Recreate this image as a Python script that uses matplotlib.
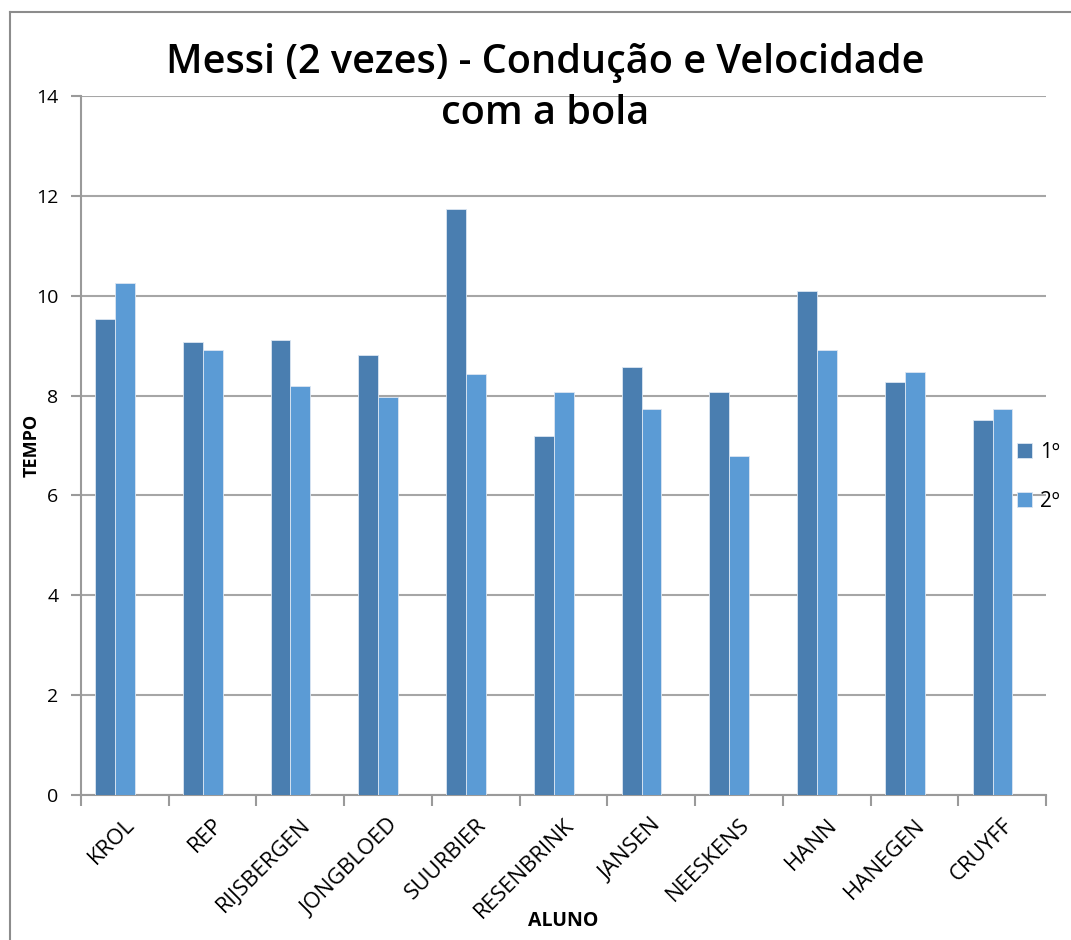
import numpy as np
import matplotlib.pyplot as plt
from matplotlib.lines import Line2D

# dados dos tempos por aluno
alunos = ['KROL', 'REP', 'RIJSBERGEN', 'JONGBLOED', 'SUURBIER', 'RESENBRINK',
          'JANSEN', 'NEESKENS', 'HANN', 'HANEGEN', 'CRUYFF']
tempo_1 = [9.53, 9.07, 9.11, 8.81, 11.74, 7.18, 8.58, 8.08, 10.10, 8.28, 7.52]
tempo_2 = [10.25, 8.92, 8.19, 7.97, 8.43, 8.08, 7.74, 6.79, 8.92, 8.47, 7.74]
series = ['1º', '2º']
cores = ['#4A7EB0', '#5B9BD5']

fonte = ['Open Sans', 'DejaVu Sans']
plt.rcParams['font.family'] = fonte

fig = plt.figure(figsize=(10.71, 9.4), dpi=100)
ax = fig.add_axes([0.0754, 0.1543, 0.9013, 0.7436])

x = np.arange(len(alunos))
w = 0.227
shift = -0.11
ax.bar(x + shift - w / 2, tempo_1, w, color=cores[0], edgecolor='#DCE6F2',
       linewidth=0.6, label=series[0], zorder=3)
ax.bar(x + shift + w / 2, tempo_2, w, color=cores[1], edgecolor='#DCE6F2',
       linewidth=0.6, label=series[1], zorder=3)

ax.set_xlim(-0.5, len(alunos) - 0.5)
ax.set_ylim(0, 14)
ax.set_yticks(np.arange(0, 15, 2))
ax.yaxis.grid(True, color='#A6A6A6', linewidth=1.5, zorder=0)
ax.set_axisbelow(True)

# ticks do eixo x nos limites das categorias
ax.set_xticks(np.arange(-0.5, len(alunos)), minor=False)
ax.set_xticklabels([])
ax.set_xticks(x, minor=True)
ax.set_xticklabels(alunos, minor=True, rotation=45, ha='right',
                   rotation_mode='anchor', fontsize=16)
ax.tick_params(axis='x', which='minor', length=0, pad=14)
ax.tick_params(axis='x', which='major', length=8, width=1.5, color='#9A9A9A')
ax.tick_params(axis='y', length=7, width=1.5, color='#9A9A9A', labelsize=14,
               pad=9)

for s in ['top', 'right']:
    ax.spines[s].set_visible(False)
for s in ['left', 'bottom']:
    ax.spines[s].set_color('#9A9A9A')
    ax.spines[s].set_linewidth(1.5)

ax.set_xlabel('ALUNO', fontsize=14, fontweight='bold')
ax.xaxis.set_label_coords(0.5, -0.166)
ax.set_ylabel('TEMPO', fontsize=13, fontweight='bold', labelpad=-3)

fig.text(0.509, 0.933, 'Messi (2 vezes) - Condução e Velocidade',
         ha='center', va='center', fontsize=28.5, fontweight='semibold')
fig.text(0.509, 0.879, 'com a bola', ha='center', va='center',
         fontsize=28.5, fontweight='semibold')

leg = ax.legend(loc='center left', bbox_to_anchor=(0.95, 0.455), frameon=False,
                fontsize=15, handlelength=0.75, handleheight=0.75,
                handletextpad=0.4, labelspacing=1.35)

# moldura da área do gráfico (esquerda e topo)
x0, y0 = 9.5 / 1071, 1 - 11.5 / 940
fig.add_artist(Line2D([x0, x0], [0, y0], transform=fig.transFigure,
                      color='#8C8C8C', linewidth=1.5))
fig.add_artist(Line2D([x0, 1.01], [y0, y0], transform=fig.transFigure,
                      color='#8C8C8C', linewidth=1.5))

fig.savefig('out.png', dpi=100)
